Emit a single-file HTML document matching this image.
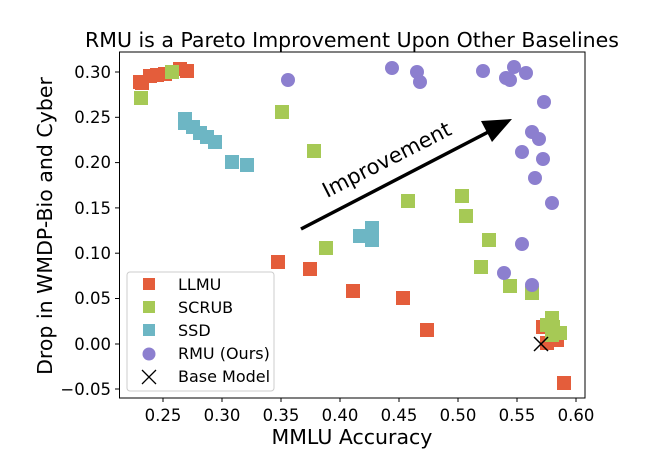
<!DOCTYPE html>
<html><head><meta charset="utf-8"><style>body{margin:0;background:#fff}svg{display:block}text{font-family:"DejaVu Sans","Liberation Sans",sans-serif;fill:#000}</style></head><body>
<svg width="652" height="465" viewBox="0 0 652 465" xmlns="http://www.w3.org/2000/svg">
<text x="352" y="47" font-size="20.5" text-anchor="middle">RMU is a Pareto Improvement Upon Other Baselines</text>
<g fill="#E45D3B">
<rect x="133" y="75" width="14" height="14"/><rect x="135" y="76" width="14" height="14"/><rect x="143" y="69" width="14" height="14"/><rect x="150" y="68" width="14" height="14"/><rect x="158" y="67" width="14" height="14"/><rect x="165" y="65" width="14" height="14"/><rect x="173" y="62" width="14" height="14"/><rect x="180" y="64" width="14" height="14"/>
<rect x="271" y="255" width="14" height="14"/><rect x="303" y="262" width="14" height="14"/><rect x="346" y="284" width="14" height="14"/><rect x="396" y="291" width="14" height="14"/><rect x="420" y="323" width="14" height="14"/><rect x="536" y="320" width="14" height="14"/><rect x="540" y="336" width="14" height="14"/><rect x="550" y="333" width="14" height="14"/><rect x="545" y="328" width="14" height="14"/><rect x="557" y="376" width="14" height="14"/>
</g>
<g fill="#A6C955">
<rect x="165" y="65" width="14" height="14"/><rect x="134" y="91" width="14" height="14"/><rect x="275" y="105" width="14" height="14"/><rect x="307" y="144" width="14" height="14"/><rect x="319" y="241" width="14" height="14"/><rect x="401" y="194" width="14" height="14"/><rect x="455" y="189" width="14" height="14"/><rect x="459" y="209" width="14" height="14"/><rect x="482" y="233" width="14" height="14"/><rect x="474" y="260" width="14" height="14"/><rect x="503" y="279" width="14" height="14"/><rect x="525" y="286" width="14" height="14"/><rect x="545" y="311" width="14" height="14"/><rect x="546" y="320" width="14" height="14"/><rect x="553" y="326" width="14" height="14"/><rect x="545" y="328" width="14" height="14"/><rect x="540" y="318" width="14" height="14"/>
</g>
<g fill="#6DB6C4">
<rect x="178" y="112" width="14" height="14"/><rect x="178" y="116" width="14" height="14"/><rect x="186" y="120" width="14" height="14"/><rect x="193" y="126" width="14" height="14"/><rect x="200" y="130" width="14" height="14"/><rect x="208" y="135" width="14" height="14"/><rect x="225" y="155" width="14" height="14"/><rect x="240" y="158" width="14" height="14"/>
<rect x="353" y="229" width="14" height="14"/><rect x="365" y="221" width="14" height="14"/><rect x="365" y="233" width="14" height="14"/><rect x="360" y="229" width="14" height="14"/>
</g>
<g fill="#8C7FCF">
<circle cx="288" cy="80" r="7"/><circle cx="392" cy="68" r="7"/><circle cx="417" cy="72" r="7"/><circle cx="420" cy="82" r="7"/><circle cx="483" cy="71" r="7"/><circle cx="514" cy="67" r="7"/><circle cx="506" cy="78" r="7"/><circle cx="510" cy="80" r="7"/><circle cx="526" cy="73" r="7"/><circle cx="544" cy="102" r="7"/><circle cx="532" cy="132" r="7"/><circle cx="539" cy="139" r="7"/><circle cx="522" cy="152" r="7"/><circle cx="543" cy="159" r="7"/><circle cx="535" cy="178" r="7"/><circle cx="552" cy="203" r="7"/><circle cx="522" cy="244" r="7"/><circle cx="504" cy="273" r="7"/><circle cx="532" cy="285" r="7"/>
</g>
<path d="M534 337 L548 351 M548 337 L534 351" stroke="#000" stroke-width="1.5"/>
<line x1="301" y1="229" x2="496" y2="128" stroke="#000" stroke-width="3.5"/>
<polygon points="512,119 481,121 492,142" fill="#000"/>
<text x="0" y="0" font-size="21" text-anchor="middle" transform="translate(390,166) rotate(-27)">Improvement</text>
<rect x="119.5" y="52" width="465.5" height="346" fill="none" stroke="#000" stroke-width="1"/>
<g stroke="#000" stroke-width="1">
<line x1="163" y1="398" x2="163" y2="402"/><line x1="222" y1="398" x2="222" y2="402"/><line x1="281" y1="398" x2="281" y2="402"/><line x1="340" y1="398" x2="340" y2="402"/><line x1="399" y1="398" x2="399" y2="402"/><line x1="458" y1="398" x2="458" y2="402"/><line x1="517" y1="398" x2="517" y2="402"/><line x1="576" y1="398" x2="576" y2="402"/>
<line x1="115" y1="72" x2="119.5" y2="72"/><line x1="115" y1="117.3" x2="119.5" y2="117.3"/><line x1="115" y1="162.6" x2="119.5" y2="162.6"/><line x1="115" y1="207.9" x2="119.5" y2="207.9"/><line x1="115" y1="253.2" x2="119.5" y2="253.2"/><line x1="115" y1="298.5" x2="119.5" y2="298.5"/><line x1="115" y1="344" x2="119.5" y2="344"/><line x1="115" y1="389" x2="119.5" y2="389"/>
</g>
<g font-size="16.5" text-anchor="middle">
<text x="163" y="421">0.25</text><text x="222" y="421">0.30</text><text x="281" y="421">0.35</text><text x="340" y="421">0.40</text><text x="399" y="421">0.45</text><text x="458" y="421">0.50</text><text x="517" y="421">0.55</text><text x="576" y="421">0.60</text>
</g>
<g font-size="16.5" text-anchor="end">
<text x="111" y="78">0.30</text><text x="111" y="123">0.25</text><text x="111" y="168">0.20</text><text x="111" y="214">0.15</text><text x="111" y="259">0.10</text><text x="111" y="304">0.05</text><text x="111" y="350">0.00</text><text x="111" y="395">−0.05</text>
</g>
<text x="352" y="444" font-size="20.5" text-anchor="middle">MMLU Accuracy</text>
<text x="0" y="0" font-size="20.5" text-anchor="middle" transform="translate(52,226) rotate(-90)">Drop in WMDP-Bio and Cyber</text>
<rect x="127" y="272" width="147" height="119" rx="3" fill="#fff" fill-opacity="0.8" stroke="#ccc" stroke-width="1"/>
<rect x="143" y="278" width="12" height="12" fill="#E45D3B"/>
<rect x="143" y="301" width="12" height="12" fill="#A6C955"/>
<rect x="143" y="324" width="12" height="12" fill="#6DB6C4"/>
<circle cx="149" cy="354" r="6.5" fill="#8C7FCF"/>
<path d="M142 370 L156 384 M156 370 L142 384" stroke="#000" stroke-width="1.3"/>
<g font-size="16">
<text x="178" y="290">LLMU</text><text x="178" y="313">SCRUB</text><text x="178" y="336">SSD</text><text x="178" y="359">RMU (Ours)</text><text x="178" y="382">Base Model</text>
</g>
</svg>
</body></html>
